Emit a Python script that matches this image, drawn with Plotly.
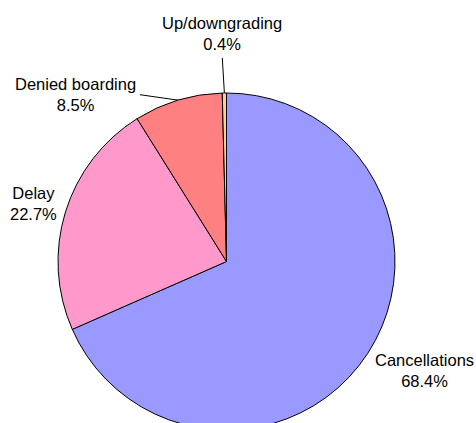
import math
import plotly.graph_objects as go

labels = ['Cancellations', 'Delay', 'Denied boarding', 'Up/downgrading']
values = [68.4, 22.7, 8.5, 0.4]
colors = ['#9999FF', '#FF99CC', '#FF8080', '#FFCC99']

# figure / pie geometry (pixels)
W, H = 476, 450
cx, cy, R = 226.5, 261.7, 168.4
l, t = cx - R, cy - R
side = 2 * R


def xp(px):
    return (px - l) / side


def yp(py):
    return 1 - (py - t) / side


# where each label block sits (pixel centre) and whether it gets a leader line
label_pos = [(424.5, 370.7), (34.0, 203.3), (75.8, 95.0), (222.4, 34.2)]
leader_from = [None, None, (140.0, 95.0), (222.3, 58.3)]

fig = go.Figure(go.Pie(
    labels=labels,
    values=values,
    sort=False,
    direction='clockwise',
    rotation=0,
    marker=dict(colors=colors, line=dict(color='black', width=1)),
    textinfo='none',
    hoverinfo='label+percent',
    showlegend=False,
))

total = sum(values)
cum = 0
for i, v in enumerate(values):
    mid = (cum + v / 2) / total * 2 * math.pi
    cum += v
    pct = v / total * 100
    x, y = label_pos[i]
    fig.add_annotation(
        x=xp(x), y=yp(y), xref='paper', yref='paper',
        text=f'{labels[i]}<br>{pct:.1f}%',
        showarrow=False, xanchor='center', yanchor='middle', align='center',
        font=dict(family='Liberation Sans, Arial', size=16.5, color='black'),
    )
    if leader_from[i] is not None:
        ex = cx + R * math.sin(mid)
        ey = cy - R * math.cos(mid)
        sx, sy = leader_from[i]
        fig.add_shape(type='line', xref='paper', yref='paper',
                      x0=xp(sx), y0=yp(sy), x1=xp(ex), y1=yp(ey),
                      line=dict(color='black', width=1))

fig.update_layout(
    width=W, height=H,
    margin=dict(l=l, t=t, r=W - l - side, b=H - t - side, pad=0),
    paper_bgcolor='white',
    plot_bgcolor='white',
)

# the pie runs off the bottom of the window, so drop page margin and scrollbars
fig.write_html("out.html", config={'displayModeBar': False},
               post_script="document.body.style.margin='0';document.body.style.overflow='hidden';")
